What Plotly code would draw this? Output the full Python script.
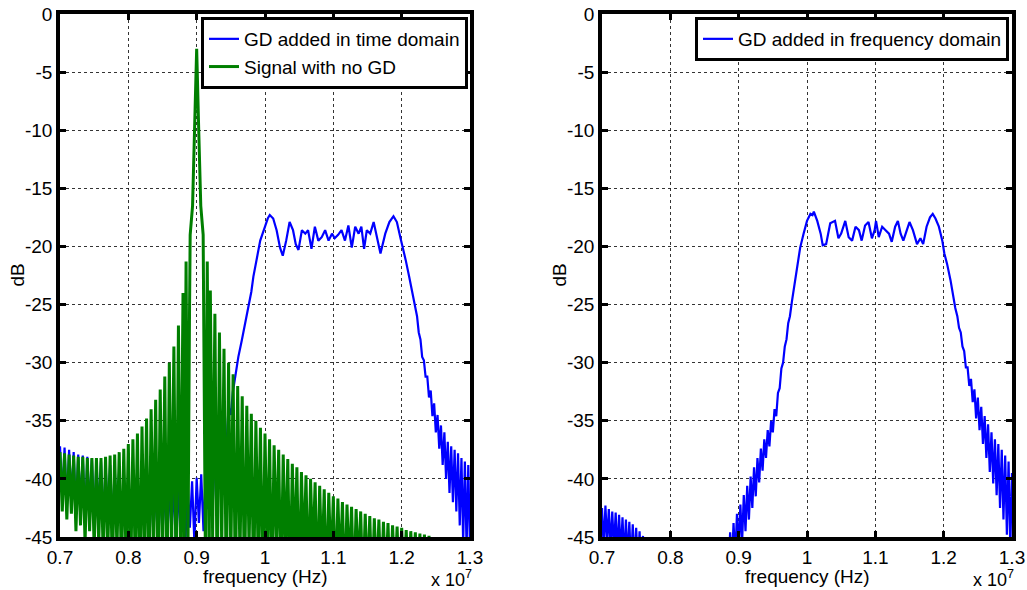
import numpy as np
import plotly.graph_objects as go

# ---------------- data (frequency in units of 1e7 Hz, level in dB) ----------------
x_ticks = [0.7, 0.8, 0.9, 1.0, 1.1, 1.2, 1.3]
x_tick_labels = ["0.7", "0.8", "0.9", "1", "1.1", "1.2", "1.3"]
y_ticks = [0, -5, -10, -15, -20, -25, -30, -35, -40, -45]
y_tick_labels = ["0", "-5", "-10", "-15", "-20", "-25", "-30", "-35", "-40", "-45"]

# Signal with no GD
# left skirt (every 1/300 from 0.7 to 0.88)
green_left_f = np.linspace(0.7, 0.88, 55)
green_left_db = [
    -37.7, -42.8, -37.8, -43.5, -37.9, -43.0, -38.0, -44.5, -38.1, -44.0,
    -38.1, -45.5, -38.2, -44.5, -38.2, -46.0, -38.2, -45.5, -38.2, -47.0,
    -38.1, -46.0, -38.0, -48.0, -37.9, -46.0, -37.7, -48.0, -37.4, -47.0,
    -37.0, -49.0, -36.6, -47.0, -36.1, -50.0, -35.5, -47.0, -34.8, -50.0,
    -34.0, -46.0, -33.2, -50.0, -32.3, -47.0, -31.2, -50.0, -30.0, -46.0,
    -28.6, -50.0, -26.8, -47.0, -24.0,
]
# main lobe and first side lobes
green_mid_f = [0.8817, 0.8845, 0.8872, 0.8895, 0.8905, 0.894, 0.897, 0.900,
               0.903, 0.906, 0.9095, 0.9105, 0.9128, 0.9155, 0.9183]
green_mid_db = [-48.0, -21.3, -47.0, -26.0, -19.0, -16.5, -10.0, -3.0,
                -10.0, -16.5, -19.0, -26.0, -47.0, -21.3, -48.0]
# right skirt (every 1/300 from 0.92 to 1.3)
green_right_f = np.linspace(0.92, 1.3, 115)
green_right_db = [
    -23.8, -45.0, -25.8, -50.0,
    -27.4, -46.0, -28.8, -50.0, -30.0, -47.0, -31.0, -50.0, -32.0, -47.0,
    -32.9, -50.0, -33.7, -46.0, -34.4, -50.0, -35.0, -47.0, -35.6, -50.0,
    -36.1, -47.0, -36.6, -50.0, -37.1, -46.0, -37.5, -50.0, -37.9, -47.0,
    -38.3, -50.0, -38.7, -47.0, -39.0, -50.0, -39.4, -47.0, -39.7, -50.0,
    -40.0, -47.0, -40.3, -50.0, -40.6, -48.0, -40.9, -50.0, -41.2, -48.0,
    -41.5, -50.0, -41.7, -48.0, -42.0, -50.0, -42.2, -48.0, -42.4, -50.0,
    -42.6, -48.0, -42.8, -50.0, -43.0, -49.0, -43.2, -50.0, -43.4, -49.0,
    -43.5, -50.0, -43.7, -49.0, -43.8, -50.0, -44.0, -49.0, -44.1, -50.0,
    -44.2, -49.0, -44.4, -50.0, -44.5, -49.0, -44.6, -50.0, -44.7, -50.0,
    -44.8, -50.0, -44.9, -50.0, -45.1, -50.0, -45.3, -50.0, -45.5, -50.0,
    -45.7, -50.0, -45.9, -50.0, -46.1, -50.0, -46.3, -50.0, -46.5, -50.0,
    -46.7,
]

# GD added in time domain: noisy floor (every 1/300 from 0.7 to 0.95)
td_floor_f = np.linspace(0.7, 0.95, 76)
td_floor_db = [
    -37.2, -41.5, -37.3, -42.5, -37.5, -41.8, -37.7, -43.0, -37.9, -42.2,
    -38.0, -43.5, -38.1, -42.5, -38.3, -43.8, -38.4, -43.0, -38.5, -44.2,
    -38.7, -43.5, -38.8, -44.5, -39.0, -44.0, -39.1, -45.0, -39.3, -44.2,
    -39.4, -45.3, -39.6, -44.5, -39.7, -45.5, -39.9, -44.5, -40.0, -45.6,
    -40.1, -44.8, -40.2, -45.8, -40.3, -44.8, -40.4, -46.0, -40.4, -44.6,
    -40.5, -46.0, -40.5, -44.8, -40.4, -45.8, -40.3, -44.2, -40.2, -45.5,
    -39.9, -43.8, -39.6, -44.5, -39.2, -42.6, -38.6, -42.5, -37.8, -40.8,
    -36.8, -39.5, -35.5, -37.5, -33.8, -34.5,
]
# passband
td_band_f = [
    0.953, 0.956, 0.961, 0.966, 0.971, 0.976, 0.980, 0.983, 0.988, 0.993,
    1.000, 1.004, 1.007, 1.012, 1.017, 1.022, 1.026, 1.031, 1.036, 1.041,
    1.045, 1.049, 1.054, 1.059, 1.063, 1.068, 1.073, 1.078, 1.083, 1.088,
    1.093, 1.098, 1.102, 1.107, 1.112, 1.117, 1.122, 1.127, 1.132, 1.137,
    1.141, 1.145, 1.149, 1.154, 1.159, 1.163, 1.169, 1.176, 1.182, 1.188,
    1.193, 1.198, 1.202, 1.206, 1.211, 1.216, 1.220,
]
td_band_db = [
    -32.5, -31.2, -29.5, -28.1, -26.7, -25.0, -23.9, -22.6, -20.9, -19.5,
    -18.3, -17.6, -17.3, -17.6, -18.6, -20.1, -20.8, -19.5, -17.9, -18.6,
    -19.8, -20.3, -18.6, -18.9, -18.6, -20.2, -18.3, -19.5, -19.2, -18.6,
    -19.5, -18.9, -19.3, -19.0, -18.6, -19.5, -18.2, -20.1, -18.3, -18.9,
    -18.3, -20.2, -18.6, -18.9, -17.9, -18.9, -20.6, -18.9, -17.9, -17.4,
    -17.9, -19.2, -20.1, -21.2, -22.6, -24.1, -25.2,
]
# falling edge (every 0.0025 from 1.2225 to 1.3)
td_edge_f = np.linspace(1.2225, 1.3, 32)
td_edge_db = [
    -26.0, -27.4, -28.0, -29.5, -29.8, -31.2, -31.2, -33.0, -32.4, -34.6,
    -33.5, -36.0, -34.5, -37.4, -35.4, -38.8, -36.0, -40.0, -36.8, -41.2,
    -37.2, -42.0, -37.5, -42.8, -37.8, -44.0, -38.2, -45.5, -38.5, -46.0,
    -38.8, -46.0,
]

# GD added in frequency domain
fd_low_f = np.linspace(0.7, 0.76, 25)
fd_low_db = [
    -42.5, -46.0, -42.3, -45.5, -42.6, -46.0, -42.8, -46.0, -42.9, -46.5,
    -43.1, -46.5, -43.3, -47.0, -43.5, -47.0, -43.7, -47.5, -43.9, -47.5,
    -44.2, -48.0, -44.5, -48.0, -44.9,
]
fd_rise_f = np.linspace(0.8825, 0.9725, 37)
fd_rise_db = [
    -46.0, -48.0, -44.6, -47.5, -43.8, -46.8, -43.0, -46.2, -42.2, -45.5,
    -41.4, -44.5, -40.6, -43.5, -39.8, -42.5, -39.0, -41.5, -38.2, -40.3,
    -37.4, -39.3, -36.6, -38.2, -35.8, -37.2, -35.0, -36.0, -34.0, -34.6,
    -32.6, -32.2, -30.5, -30.0, -28.6, -28.0, -26.6,
]
fd_band_f = [
    0.975, 0.978, 0.983, 0.988, 0.990, 0.995, 1.000, 1.005, 1.008, 1.010,
    1.015, 1.020, 1.023, 1.028, 1.034, 1.041, 1.046, 1.050, 1.056, 1.061,
    1.066, 1.071, 1.076, 1.080, 1.085, 1.090, 1.095, 1.099, 1.101, 1.105,
    1.110, 1.115, 1.120, 1.124, 1.129, 1.133, 1.137, 1.141, 1.146, 1.150,
    1.155, 1.161, 1.166, 1.170, 1.175, 1.180, 1.184, 1.188, 1.193, 1.198,
    1.201, 1.205, 1.210, 1.215, 1.217,
]
fd_band_db = [
    -26.0, -24.7, -22.9, -21.2, -20.1, -18.9, -17.8, -17.2, -17.3, -17.0,
    -17.8, -18.9, -19.9, -19.8, -18.0, -17.8, -19.3, -18.9, -17.8, -19.2,
    -19.5, -18.3, -18.6, -19.5, -18.2, -17.9, -19.3, -18.6, -17.8, -19.2,
    -18.3, -18.6, -18.9, -19.6, -18.3, -17.8, -18.9, -19.5, -18.6, -17.9,
    -18.6, -19.8, -19.3, -19.8, -18.3, -17.5, -17.2, -17.6, -18.3, -19.5,
    -20.6, -21.5, -22.9, -24.7, -25.3,
]
fd_fall_f = np.linspace(1.22, 1.3, 33)
fd_fall_db = [
    -26.0, -27.0, -27.4, -28.6, -29.0, -30.4, -30.4, -32.0, -31.4, -33.4,
    -32.3, -34.8, -33.0, -35.8, -33.8, -37.0, -34.6, -38.2, -35.3, -39.4,
    -36.0, -40.4, -36.6, -41.4, -37.0, -42.5, -37.5, -43.5, -38.0, -44.8,
    -38.5, -46.0, -39.5,
]

# ---------------- assemble series ----------------
green_f = list(green_left_f) + green_mid_f + list(green_right_f)
green_db = green_left_db + green_mid_db + green_right_db
td_f = list(td_floor_f) + list(td_band_f) + list(td_edge_f)
td_db = td_floor_db + td_band_db + td_edge_db
fd_f = list(fd_low_f) + [None] + list(fd_rise_f) + list(fd_band_f) + list(fd_fall_f)
fd_db = fd_low_db + [None] + fd_rise_db + fd_band_db + fd_fall_db

W, H = 1027, 590
FONT = "Liberation Sans, Arial, Helvetica, sans-serif"
FS = 19
BLUE = "#0000FF"
GREEN = "#007F00"

fig = go.Figure()
fig.add_trace(go.Scatter(x=td_f, y=td_db, mode="lines", name="GD added in time domain",
                         line=dict(color=BLUE, width=2.2), xaxis="x", yaxis="y", legend="legend"))
fig.add_trace(go.Scatter(x=green_f, y=green_db, mode="lines", name="Signal with no GD",
                         line=dict(color=GREEN, width=3.0), xaxis="x", yaxis="y", legend="legend"))
fig.add_trace(go.Scatter(x=fd_f, y=fd_db, mode="lines", name="GD added in frequency domain",
                         line=dict(color=BLUE, width=2.2), xaxis="x2", yaxis="y2", legend="legend2",
                         connectgaps=False))

common = dict(showline=True, linecolor="black", linewidth=3.5, mirror="allticks",
              ticks="inside", ticklen=6, tickwidth=3, tickcolor="black",
              showgrid=True, gridcolor="rgba(30,30,30,0.9)", griddash="dot", gridwidth=1,
              zeroline=False, automargin=False,
              tickfont=dict(family=FONT, size=FS, color="black"))

xcommon = dict(common, range=[0.7, 1.3], tickmode="array", tickvals=x_ticks, ticktext=x_tick_labels,
               ticklabelstandoff=0)
ycommon = dict(common, range=[-45, 0], tickmode="array", tickvals=y_ticks, ticktext=y_tick_labels,
               ticklabelstandoff=0)

ydom = [(H - 537) / H, (H - 14) / H]
txt = dict(family=FONT, size=FS, color="black")


def label(text, xpix, ypix, xanchor="center", yanchor="middle", angle=0, size=FS):
    return dict(text=text, x=xpix / W, y=1 - ypix / H, xref="paper", yref="paper",
                xanchor=xanchor, yanchor=yanchor, showarrow=False, textangle=angle,
                font=dict(family=FONT, size=size, color="black"))


fig.update_layout(
    width=W, height=H, margin=dict(l=0, r=0, t=0, b=0, autoexpand=False),
    paper_bgcolor="white", plot_bgcolor="white",
    xaxis=dict(xcommon, domain=[60 / W, 470 / W], anchor="y"),
    yaxis=dict(ycommon, domain=ydom, anchor="x"),
    xaxis2=dict(xcommon, domain=[602 / W, 1012 / W], anchor="y2"),
    yaxis2=dict(ycommon, domain=ydom, anchor="x2"),
    legend=dict(x=468 / W, y=1 - 17 / H, xanchor="right", yanchor="top",
                bgcolor="white", bordercolor="black", borderwidth=3,
                font=txt, itemwidth=30, tracegroupgap=0),
    legend2=dict(x=1009 / W, y=1 - 17 / H, xanchor="right", yanchor="top",
                 bgcolor="white", bordercolor="black", borderwidth=3,
                 font=txt, itemwidth=30),
    showlegend=True,
    annotations=[
        label("frequency (Hz)", 265, 576),
        label("frequency (Hz)", 807, 576),
        label("dB", 17, 275.5, angle=-90),
        label("dB", 559, 275.5, angle=-90),
        label("x 10<sup>7</sup>", 429, 592, xanchor="left", yanchor="bottom", size=18),
        label("x 10<sup>7</sup>", 971, 592, xanchor="left", yanchor="bottom", size=18),
    ],
)

fig.write_html("out.html")
